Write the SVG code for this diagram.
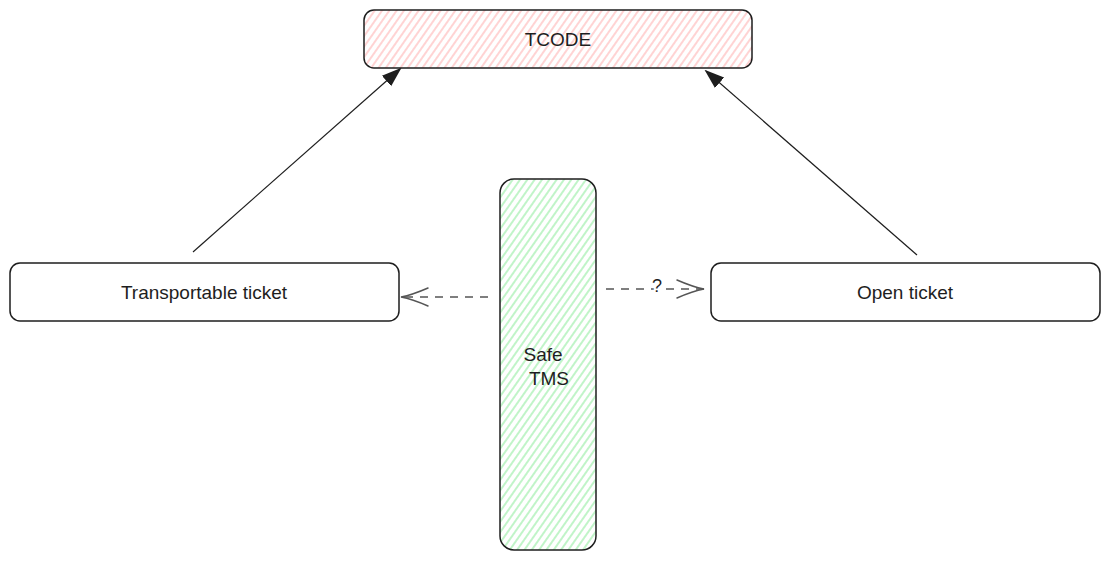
<svg xmlns="http://www.w3.org/2000/svg" width="1110" height="562" viewBox="0 0 1110 562">
<defs>
<pattern id="hPink" width="6" height="6" patternUnits="userSpaceOnUse" patternTransform="rotate(35)">
<rect width="6" height="6" fill="#ffffff"/>
<line x1="1" y1="0" x2="1" y2="6" stroke="#ffc9c9" stroke-width="1.6"/>
</pattern>
<pattern id="hGreen" width="6" height="6" patternUnits="userSpaceOnUse" patternTransform="rotate(35)">
<rect width="6" height="6" fill="#ffffff"/>
<line x1="1" y1="0" x2="1" y2="6" stroke="#b2f2bb" stroke-width="1.6"/>
</pattern>
<marker id="solid" viewBox="0 0 20 20" refX="18" refY="10" markerWidth="20" markerHeight="20" markerUnits="userSpaceOnUse" orient="auto">
<path d="M0,3 L20,10 L0,17 Z" fill="#1e1e1e"/>
</marker>
<marker id="open" viewBox="0 0 30 24" refX="29" refY="12" markerWidth="30" markerHeight="24" markerUnits="userSpaceOnUse" orient="auto">
<path d="M2,3 Q18,10 29,12 Q18,14 2,21" fill="none" stroke="#555" stroke-width="1.5" stroke-linecap="round"/>
</marker>
</defs>
<style>
.box{stroke:#1e1e1e;stroke-width:1.5;}
.lbl{font-family:"Liberation Sans",Arial,sans-serif;font-size:19px;fill:#1e1e1e;text-anchor:middle;dominant-baseline:central;}
.conn{fill:none;stroke:#1e1e1e;stroke-width:1.2;}
.dash{fill:none;stroke:#555;stroke-width:1.5;stroke-dasharray:8 7;}
</style>
<rect width="1110" height="562" fill="#ffffff"/>
<g id="tcode">
<rect class="box" x="364" y="10" width="388" height="58" rx="10" fill="url(#hPink)"/>
<text class="lbl" x="558" y="39">TCODE</text>
</g>
<g id="transportable">
<rect class="box" x="10" y="263" width="389" height="58" rx="10" fill="#ffffff"/>
<text class="lbl" x="204" y="292">Transportable ticket</text>
</g>
<g id="open-ticket">
<rect class="box" x="711" y="263" width="389" height="58" rx="10" fill="#ffffff"/>
<text class="lbl" x="905" y="292">Open ticket</text>
</g>
<g id="safe-tms">
<rect class="box" x="500" y="179" width="96" height="371" rx="14" fill="url(#hGreen)"/>
<text class="lbl" x="543" y="354">Safe</text>
<text class="lbl" x="549" y="378">TMS</text>
</g>
<g id="connectors">
<path class="conn" d="M193,252 L400,69" marker-end="url(#solid)"/>
<path class="conn" d="M917,255 L706,71" marker-end="url(#solid)"/>
<path class="dash" d="M488,297 L401,297" marker-end="url(#open)"/>
<path class="dash" d="M606,289 L704,289" marker-end="url(#open)"/>
<text x="657" y="286" font-family="Liberation Sans,Arial,sans-serif" font-size="18" fill="#1e1e1e" text-anchor="middle" dominant-baseline="central" style="paint-order:stroke" stroke="#ffffff" stroke-width="4">?</text>
</g>
</svg>
